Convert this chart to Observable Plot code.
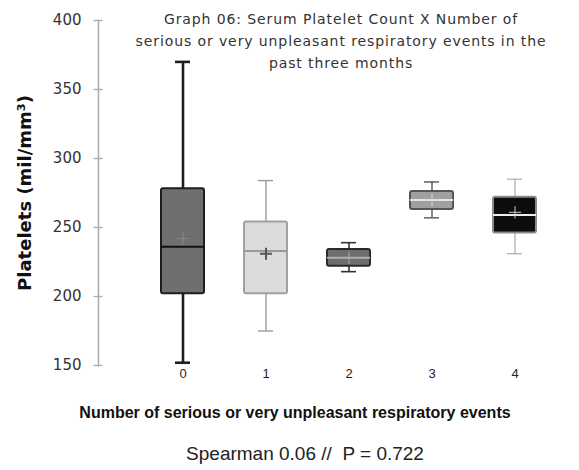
<!DOCTYPE html>
<html>
<head>
<meta charset="utf-8">
<script src="https://cdn.jsdelivr.net/npm/d3@7"></script>
<script src="https://cdn.jsdelivr.net/npm/@observablehq/plot@0.6"></script>
<style>
  html, body { margin: 0; padding: 0; background: #fff; }
  #wrap { position: relative; width: 579px; height: 470px; font-family: "Liberation Sans", Arial, sans-serif; }
  #title { position: absolute; left: 91px; width: 500px; top: 8px; text-align: center; font-family: "DejaVu Sans", sans-serif; font-size: 14px; letter-spacing: 0.9px; line-height: 22px; color: #333; white-space: nowrap; }
  #xlabel { position: absolute; left: 0; width: 590px; top: 404px; text-align: center; font-size: 16px; font-weight: bold; color: #111; white-space: nowrap; }
  #caption { position: absolute; left: 0; width: 610px; top: 443px; text-align: center; font-size: 19px; color: #222; white-space: nowrap; }
  #chart { position: absolute; left: 0; top: 0; }
</style>
</head>
<body>
<div id="wrap">
  <div id="chart"></div>
  <div id="title">Graph 06: Serum Platelet Count X Number of<br>serious or very unpleasant respiratory events in the<br>past three months</div>
  <div id="xlabel">Number of serious or very unpleasant respiratory events</div>
  <div id="caption">Spearman 0.06 //&nbsp; P = 0.722</div>
</div>
<script>
const categories = ["0", "1", "2", "3", "4"];
const whiskerLow = [152, 175, 218, 257, 231];
const q1 = [202, 202, 222, 263, 246];
const median = [236, 233, 228, 270, 259];
const q3 = [278, 254, 234, 276, 272];
const whiskerHigh = [370, 284, 239, 283, 285];
const mean = [242, 231, 228, 270, 261];
const yTicks = [150, 200, 250, 300, 350, 400];

const boxFill = ["#6f6f6f", "#dcdcdc", "#6e6e6e", "#a0a0a0", "#0d0d0d"];
const boxStroke = ["#1e1e1e", "#a0a0a0", "#2a2a2a", "#555555", "#8a8a8a"];
const whiskerColor = ["#1e1e1e", "#999999", "#333333", "#555555", "#aaaaaa"];
const medianColor = ["#111111", "#9a9a9a", "#b0b0b0", "#e6e6e6", "#eeeeee"];
const meanColor = ["#888888", "#555555", "#aaaaaa", "#dddddd", "#cccccc"];
const whiskerWidth = [2.6, 1.4, 1.6, 1.4, 1.2];
const meanWidth = [1, 2, 1, 1, 1];

const data = categories.map((c, i) => ({
  cat: c, lo: whiskerLow[i], q1: q1[i], med: median[i], q3: q3[i], hi: whiskerHigh[i], mean: mean[i],
  fill: boxFill[i], stroke: boxStroke[i], wcol: whiskerColor[i], mcol: medianColor[i], mncol: meanColor[i],
  ww: whiskerWidth[i], mw: meanWidth[i]
}));

const chart = Plot.plot({
  width: 579,
  height: 470,
  marginLeft: 98,
  marginRight: 22,
  marginTop: 20,
  marginBottom: 105,
  style: { fontFamily: "Liberation Sans, Arial, sans-serif", background: "transparent" },
  x: { type: "band", domain: categories, range: [140.4, 556.6], paddingInner: 0.48, paddingOuter: 0.24 },
  y: { domain: [150, 400] },
  marks: [
    Plot.frame({ anchor: "left", stroke: "#aaaaaa", strokeWidth: 1.5 }),
    Plot.axisY({ ticks: yTicks, tickSize: 9, dx: 4.5, text: null, stroke: "#aaaaaa", strokeWidth: 1.3, label: null }),
    Plot.axisY({ ticks: yTicks, tickSize: 0, tickPadding: 17, fontSize: 15, fontFamily: "DejaVu Sans, sans-serif", fill: "#333",
      label: "Platelets (mil/mm³)", labelAnchor: "center", labelArrow: "none", labelOffset: 80 }),
    Plot.axisX({ tickSize: 0, tickPadding: 3, fontSize: 13, fill: "#222", label: null }),
    Plot.ruleX(data, { x: "cat", y1: "lo", y2: "q1", stroke: d => d.wcol, strokeWidth: d => d.ww }),
    Plot.ruleX(data, { x: "cat", y1: "q3", y2: "hi", stroke: d => d.wcol, strokeWidth: d => d.ww }),
    Plot.tickY(data, { x: "cat", y: "lo", stroke: d => d.wcol, strokeWidth: d => d.ww, inset: 14 }),
    Plot.tickY(data, { x: "cat", y: "hi", stroke: d => d.wcol, strokeWidth: d => d.ww, inset: 14 }),
    Plot.barY(data, { x: "cat", y1: "q1", y2: "q3", fill: d => d.fill, stroke: d => d.stroke, strokeWidth: 2, rx: 2 }),
    Plot.tickY(data, { x: "cat", y: "med", stroke: d => d.mcol, strokeWidth: 2 }),
    Plot.dot(data, { x: "cat", y: "mean", symbol: "plus", r: 4, fill: d => d.mncol, stroke: d => d.mncol, strokeWidth: d => d.mw })
  ]
});
d3.select(chart).selectAll('g[aria-label="y-axis label"] text')
  .style("font-weight", "bold").style("font-size", "18px").style("fill", "#111");
document.getElementById("chart").appendChild(chart);
</script>
</body>
</html>
